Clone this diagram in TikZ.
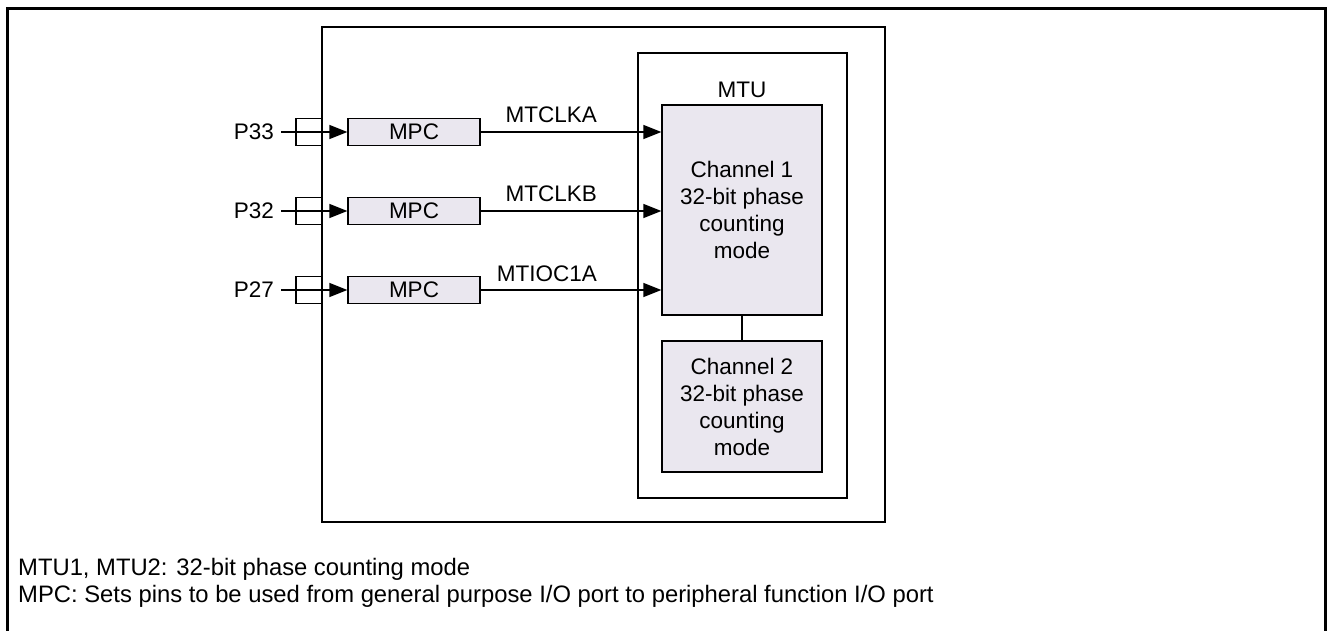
\documentclass[tikz,border=0pt]{standalone}
\usepackage{fontspec}
\setmainfont{Liberation Sans}
\usetikzlibrary{arrows.meta}
\definecolor{boxfill}{HTML}{EAE7EF}
\begin{document}
\begin{tikzpicture}[x=1pt,y=-1pt,
  every node/.style={font=\fontsize{22.5}{27}\selectfont, inner sep=0pt},
  notefont/.style={font=\fontsize{23.8}{27}\selectfont},
  thinline/.style={line width=1.3pt, draw=black},
  fillbox/.style={thinline, fill=boxfill, minimum width=#1},
  plainbox/.style={thinline},
  pinbox/.style={thinline, minimum width=26pt, minimum height=27pt},
  arr/.style={thinline, -{Triangle[length=18pt,width=14pt]}}
]
\useasboundingbox (0,0) rectangle (1328,631);
\draw[line width=3pt] (7.5,8.5) rectangle (1325.5,660);
% chip and MTU
\node[plainbox, minimum width=563pt, minimum height=495pt] (chip) at (603.5,274.5) {};
\node[plainbox, minimum width=209pt, minimum height=445pt] (mtu) at (742.5,275.5) {};
\node (mtulbl) at (742,90) {MTU};
\node[fillbox=160pt, minimum height=210pt, align=center] (ch1) at (742,210) {Channel 1\\32-bit phase\\counting\\mode};
\node[fillbox=160pt, minimum height=131pt, align=center] (ch2) at (742,406.5) {Channel 2\\32-bit phase\\counting\\mode};
\draw[thinline] (ch1.south) -- (ch2.north);
% rows
\foreach \p/\s/\y in {P33/MTCLKA/132, P32/MTCLKB/211, P27/MTIOC1A/290}{
  \node[pinbox] (pb\p) at (309,\y) {};
  \node[anchor=east, inner xsep=7pt] (pl\p) at (281,\y) {\p};
  \node[fillbox=132pt, minimum height=27pt] (mpc\p) at (414,\y) {MPC};
  \draw[arr] (pl\p.east) -- (mpc\p.west);
  \coordinate (lb\p) at (597,\y-9);
  \node[anchor=base east] (sl\p) at (lb\p) {\s};
  \draw[arr] (mpc\p.east) -- (mpc\p.east -| ch1.west);
}
\node[notefont, anchor=base west] (note1) at (18,575) {MTU1, MTU2: 32-bit phase counting mode};
\node[notefont, anchor=base west] (note2) at (18,602) {MPC: Sets pins to be used from general purpose I/O port to peripheral function I/O port};
\end{tikzpicture}
\end{document}
